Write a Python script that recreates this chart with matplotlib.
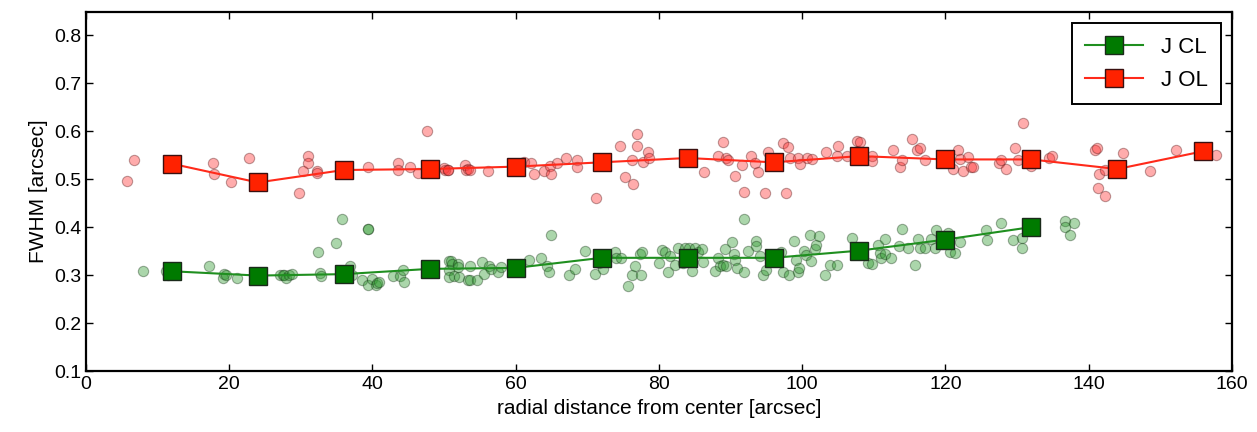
import matplotlib
matplotlib.use("Agg")
import matplotlib.pyplot as plt

plt.rcParams["font.family"] = ["Liberation Sans", "DejaVu Sans"]

# binned medians (square markers)
cl_bin_x = [12, 24, 36, 48, 60, 72, 84, 96, 108, 120, 132]
cl_bin_y = [0.308, 0.299, 0.302, 0.313, 0.315, 0.336, 0.336, 0.336, 0.351, 0.374, 0.400]
ol_bin_x = [12, 24, 36, 48, 60, 72, 84, 96, 108, 120, 132, 144, 156]
ol_bin_y = [0.532, 0.493, 0.519, 0.521, 0.526, 0.535, 0.544, 0.535, 0.548, 0.541, 0.541, 0.521, 0.558]

# individual stars, J open loop
ol_x = [5.7, 6.7, 17.7, 17.9, 20.2, 22.7, 29.8, 31.0, 31.0, 30.3, 32.2, 32.3, 39.4, 43.5, 43.6,
        45.2, 46.3, 47.6, 50.0, 50.2, 50.5, 50.6, 52.9, 53.1, 53.4, 53.6, 56.2, 61.1, 62.2, 62.5,
        64.0, 64.8, 65.0, 65.7, 67.0, 68.6, 68.6, 71.2, 74.5, 76.2, 75.2, 76.4, 76.9, 76.9, 77.8,
        78.5, 78.6, 86.3, 88.3, 89.0, 89.3, 89.6, 90.6, 91.9, 91.6, 92.9, 93.4, 93.8, 94.8, 95.2,
        97.8, 97.3, 98.0, 98.3, 99.4, 99.7, 100.7, 101.4, 103.3, 104.8, 105.0, 106.2, 107.7, 107.8,
        108.1, 109.7, 109.8, 112.7, 113.6, 113.9, 115.3, 116.0, 116.5, 117.2, 121.1, 121.8, 122.1,
        122.5, 123.1, 123.6, 123.8, 127.5, 127.7, 128.4, 129.7, 130.1, 130.9, 132.0, 134.4, 134.9,
        140.9, 141.1, 141.5, 141.3, 142.3, 142.3, 144.8, 148.6, 152.2, 157.8]
ol_y = [0.496, 0.539, 0.533, 0.511, 0.493, 0.545, 0.472, 0.549, 0.533, 0.516, 0.516, 0.512, 0.526, 0.533, 0.520,
        0.526, 0.512, 0.600, 0.523, 0.518, 0.520, 0.518, 0.530, 0.520, 0.521, 0.519, 0.516, 0.535, 0.533, 0.511,
        0.516, 0.528, 0.511, 0.533, 0.545, 0.539, 0.525, 0.460, 0.568, 0.539, 0.505, 0.489, 0.593, 0.568, 0.535,
        0.556, 0.545, 0.514, 0.549, 0.577, 0.543, 0.539, 0.507, 0.474, 0.530, 0.549, 0.533, 0.514, 0.472, 0.556,
        0.472, 0.575, 0.567, 0.545, 0.545, 0.532, 0.545, 0.541, 0.556, 0.549, 0.570, 0.549, 0.579, 0.559,
        0.577, 0.549, 0.537, 0.561, 0.526, 0.539, 0.584, 0.561, 0.565, 0.539, 0.521, 0.561, 0.541,
        0.516, 0.547, 0.526, 0.525, 0.533, 0.540, 0.521, 0.565, 0.540, 0.616, 0.528, 0.544, 0.549,
        0.560, 0.565, 0.511, 0.481, 0.465, 0.519, 0.554, 0.516, 0.561, 0.551]

# individual stars, J closed loop
cl_x = [8.0, 11.2, 11.4, 17.2, 19.3, 19.2, 19.5, 21.1, 27.1, 27.5, 27.7, 27.9, 28.3, 28.8, 32.4,
        32.7, 32.8, 34.9, 35.8, 36.9, 37.1, 38.5, 39.4, 39.4, 39.4, 39.9, 40.5, 40.7, 40.9, 42.8,
        43.9, 44.2, 44.4, 50.7, 50.9, 50.7, 50.7, 51.1, 51.4, 51.9, 52.0, 52.1, 53.4,
        53.6, 53.6, 54.6, 55.3, 55.6, 56.3, 56.5, 57.5, 58.0, 61.8, 63.6, 64.4, 64.7, 65.0, 67.5,
        68.3, 69.7, 71.1, 71.6, 72.2, 73.8, 74.0, 74.7, 75.7, 76.3, 76.6, 77.3, 77.5, 77.6, 80.0,
        80.4, 80.9, 81.3, 81.6, 82.3, 82.7, 83.3, 83.7, 84.2, 84.6, 85.1, 85.5, 86.0, 86.2, 87.8,
        88.3, 88.5, 89.0, 89.2, 89.4, 90.2, 90.5, 90.6, 90.9, 91.9, 91.9, 92.5, 93.5, 93.6, 94.1,
        94.6, 94.9, 96.0, 97.1, 97.3, 98.2, 98.9, 99.2, 99.4, 99.6, 100.3, 100.5, 101.1, 101.3,
        101.8, 102.0, 102.4, 103.2, 103.9, 104.8, 106.9, 109.2,
        109.7, 110.6, 110.8, 111.0, 111.6, 111.6, 112.4, 113.5, 114.0, 114.8, 115.7, 116.2, 116.4,
        117.1, 118.0, 118.5, 118.7, 120.4, 120.6, 121.3, 122.0, 125.7, 125.8, 127.8, 129.4, 130.7,
        130.7, 136.7, 136.7, 137.9, 137.4]
cl_y = [0.308, 0.308, 0.300, 0.320, 0.303, 0.294, 0.300, 0.294, 0.300, 0.301, 0.300, 0.293, 0.301, 0.303, 0.348,
        0.305, 0.298, 0.367, 0.416, 0.320, 0.301, 0.289, 0.397, 0.397, 0.280, 0.292, 0.280, 0.283, 0.285, 0.299,
        0.299, 0.311, 0.285, 0.330, 0.330, 0.311, 0.297, 0.324, 0.299, 0.324, 0.317, 0.296, 0.290,
        0.320, 0.289, 0.289, 0.328, 0.303, 0.320, 0.313, 0.307, 0.316, 0.332, 0.336, 0.320, 0.307, 0.383, 0.301,
        0.313, 0.350, 0.303, 0.326, 0.313, 0.349, 0.336, 0.335, 0.277, 0.300, 0.320, 0.343, 0.300, 0.349, 0.326,
        0.352, 0.349, 0.307, 0.339, 0.321, 0.356, 0.326, 0.356, 0.356, 0.309, 0.356, 0.349, 0.354, 0.328, 0.309,
        0.335, 0.318, 0.321, 0.354, 0.320, 0.368, 0.344, 0.331, 0.314, 0.416, 0.307, 0.351, 0.372, 0.360, 0.339,
        0.301, 0.310, 0.339, 0.349, 0.307, 0.300, 0.372, 0.331, 0.307, 0.314, 0.351, 0.341, 0.383, 0.330,
        0.354, 0.362, 0.381, 0.301, 0.322, 0.322, 0.377, 0.326,
        0.324, 0.362, 0.347, 0.335, 0.376, 0.345, 0.335, 0.361, 0.396, 0.356, 0.322, 0.376, 0.356,
        0.356, 0.376, 0.356, 0.394, 0.387, 0.349, 0.347, 0.368, 0.395, 0.374, 0.409, 0.374, 0.377,
        0.357, 0.412, 0.401, 0.409, 0.383]

fig = plt.figure(figsize=(12.57, 4.32), dpi=100)
ax = fig.add_axes([0.0684, 0.141, 0.9116, 0.831])

ax.scatter(cl_x, cl_y, s=55, color="#2e9a2e", alpha=0.4, edgecolors="#1a3a1a", linewidths=0.8, zorder=2)
ax.scatter(ol_x, ol_y, s=55, color="#ff3030", alpha=0.4, edgecolors="#5a1a1a", linewidths=0.8, zorder=2)

ax.plot(cl_bin_x, cl_bin_y, color="#1f8f1f", lw=1.5, marker="s", ms=13,
        mfc="#007a00", mec="#1a2a1a", mew=1.0, label="J CL", zorder=3)
ax.plot(ol_bin_x, ol_bin_y, color="#ff2a1a", lw=1.5, marker="s", ms=13,
        mfc="#ff2200", mec="#3a1010", mew=1.0, label="J OL", zorder=3)

ax.set_xlim(0, 160)
ax.set_ylim(0.1, 0.848)
ax.set_xticks([0, 20, 40, 60, 80, 100, 120, 140, 160])
ax.set_yticks([0.1, 0.2, 0.3, 0.4, 0.5, 0.6, 0.7, 0.8])
ax.tick_params(direction="in", top=True, right=True, length=5, width=1, labelsize=14)
for s in ax.spines.values():
    s.set_linewidth(1.6)

ax.set_xlabel("radial distance from center [arcsec]", fontsize=15)
ax.set_ylabel("FWHM [arcsec]", fontsize=15)

leg = ax.legend(loc="upper right", fontsize=16, fancybox=False, framealpha=1,
                edgecolor="black", borderpad=0.6, handlelength=2.6, labelspacing=0.55)
leg.get_frame().set_linewidth(1.4)

fig.savefig("out.png", dpi=100)
